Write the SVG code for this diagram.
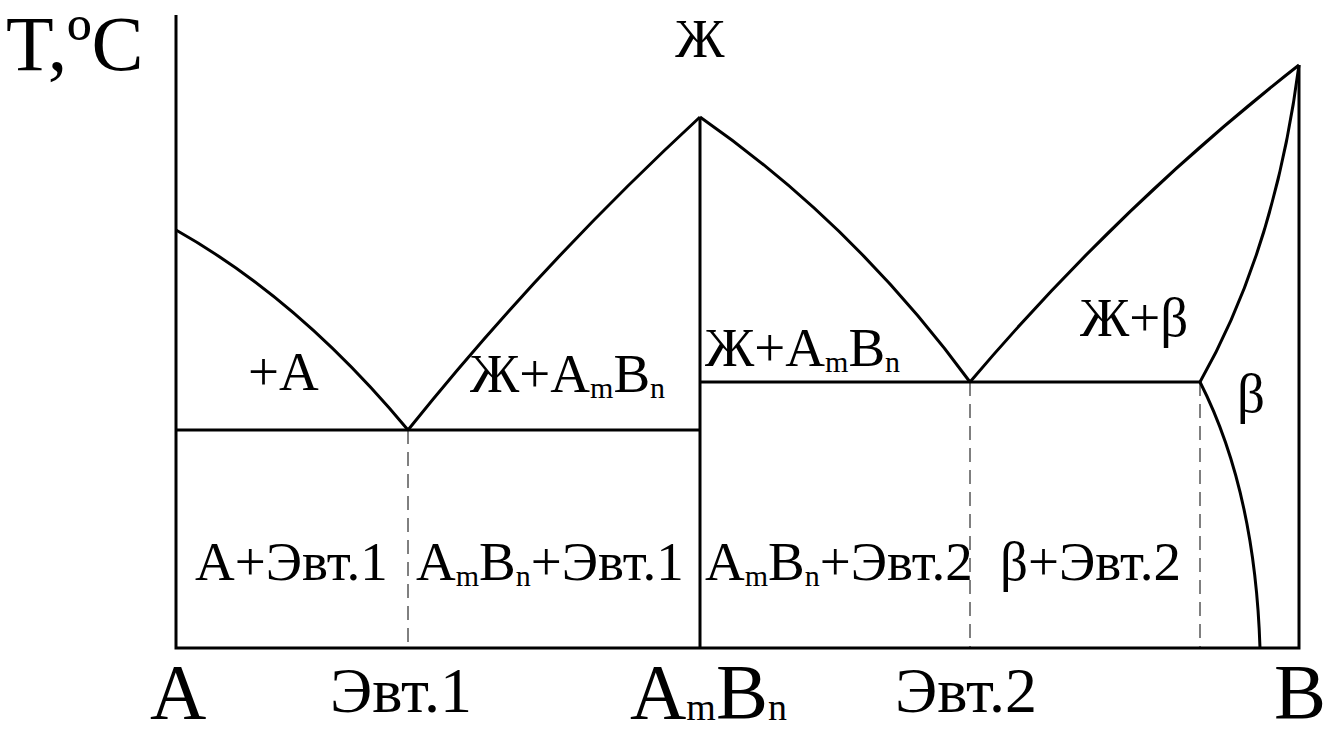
<svg xmlns="http://www.w3.org/2000/svg" width="1330" height="737" viewBox="0 0 1330 737">
<style>
.ln{fill:none;stroke:#000;stroke-width:3}
.ds{fill:none;stroke:#000;stroke-width:1;stroke-dasharray:14 8}
.t{font-family:"Liberation Serif","Times New Roman",Tinos,"DejaVu Serif","Noto Serif",serif;fill:#000}
.lab{font-size:55px}
.big{font-size:78px}
.mid{font-size:64px}
.sub{font-size:30px}
</style>
<rect width="1330" height="737" fill="#fff"/>
<g id="connectors">
<path class="ln" d="M176,15 V648 H1299 V65"/>
<path class="ln" d="M176,230 Q300,300 408,430"/>
<path class="ln" d="M176,430 H700"/>
<path class="ln" d="M700,117 V648"/>
<path class="ln" d="M408,430 Q540,265 700,117"/>
<path class="ln" d="M700,117 Q855,225 970,382"/>
<path class="ln" d="M970,382 Q1120,205 1299,65"/>
<path class="ln" d="M700,382 H1200"/>
<path class="ln" d="M1299,65 Q1275,250 1200,382"/>
<path class="ln" d="M1200,382 Q1255,490 1260,648"/>
<path class="ds" d="M408,430 V648"/>
<path class="ds" d="M970,382 V648"/>
<path class="ds" d="M1200,382 V648"/>
</g>
<g id="axis-labels" class="t">
<text class="big" x="6" y="70">T,ºC</text>
<text class="lab" x="700" y="57" text-anchor="middle">Ж</text>
<text class="big" x="150" y="718">A</text>
<text class="mid" x="330" y="712">Эвт.1</text>
<text class="big" x="630" y="718">A<tspan font-size="38" dy="2">m</tspan><tspan dy="-2">B</tspan><tspan font-size="38" dy="2">n</tspan></text>
<text class="mid" x="895" y="712">Эвт.2</text>
<text class="big" x="1274" y="718">B</text>
</g>
<g id="regions" class="t">
<text class="lab" x="248" y="390">+A</text>
<text class="lab" x="470" y="392">Ж+A<tspan class="sub" dy="6">m</tspan><tspan dy="-6">B</tspan><tspan class="sub" dy="6">n</tspan></text>
<text class="lab" x="705" y="366">Ж+A<tspan class="sub" dy="6">m</tspan><tspan dy="-6">B</tspan><tspan class="sub" dy="6">n</tspan></text>
<text class="lab" x="1080" y="336">Ж+β</text>
<text class="lab" x="1237" y="412">β</text>
<text class="lab" x="195" y="580">A+Эвт.1</text>
<text class="lab" x="416" y="580">A<tspan class="sub" dy="6">m</tspan><tspan dy="-6">B</tspan><tspan class="sub" dy="6">n</tspan><tspan dy="-6">+Эвт.1</tspan></text>
<text class="lab" x="705" y="580">A<tspan class="sub" dy="6">m</tspan><tspan dy="-6">B</tspan><tspan class="sub" dy="6">n</tspan><tspan dy="-6">+Эвт.2</tspan></text>
<text class="lab" x="1000" y="580">β+Эвт.2</text>
</g>
</svg>
